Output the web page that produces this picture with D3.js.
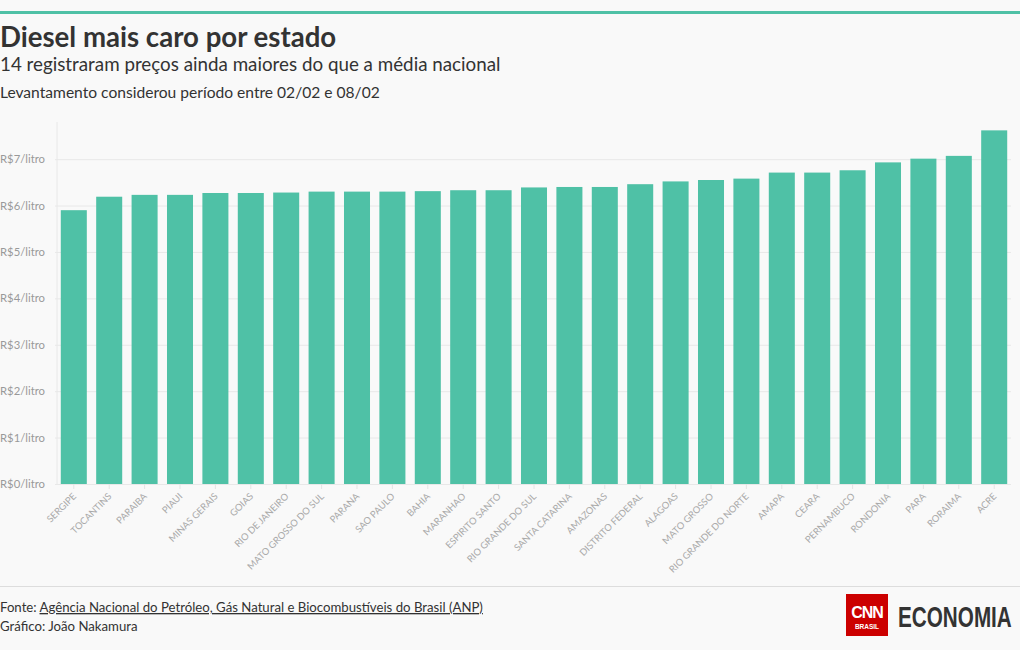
<!DOCTYPE html>
<html><head><meta charset="utf-8">
<script src="https://cdn.jsdelivr.net/npm/d3@7"></script>
<style>
html,body{margin:0;padding:0;background:#f9f9f9;}
svg{display:block;font-family:Lato,"Noto Sans",sans-serif;}
</style></head>
<body><svg id="c" width="1020" height="650"></svg>
<script>
const states = ["SERGIPE","TOCANTINS","PARAIBA","PIAUI","MINAS GERAIS","GOIAS","RIO DE JANEIRO","MATO GROSSO DO SUL","PARANA","SAO PAULO","BAHIA","MARANHAO","ESPIRITO SANTO","RIO GRANDE DO SUL","SANTA CATARINA","AMAZONAS","DISTRITO FEDERAL","ALAGOAS","MATO GROSSO","RIO GRANDE DO NORTE","AMAPA","CEARA","PERNAMBUCO","RONDONIA","PARA","RORAIMA","ACRE"];
const prices = [5.90,6.19,6.23,6.23,6.27,6.27,6.28,6.30,6.30,6.30,6.31,6.33,6.33,6.39,6.40,6.40,6.46,6.52,6.55,6.58,6.71,6.71,6.76,6.93,7.01,7.07,7.62];
const yTicks = [0,1,2,3,4,5,6,7];
const title = "Diesel mais caro por estado";
const subtitle = "14 registraram preços ainda maiores do que a média nacional";
const note = "Levantamento considerou período entre 02/02 e 08/02";
const sourceLabel = "Fonte: ";
const sourceText = "Agência Nacional do Petróleo, Gás Natural e Biocombustíveis do Brasil (ANP)";
const credit = "Gráfico: João Nakamura";

const svg = d3.select("#c");
const teal = "#4fc1a6";

svg.append("rect").attr("x",0).attr("y",11).attr("width",1020).attr("height",3).attr("fill",teal);

svg.append("text").attr("x",0).attr("y",47).attr("font-size",27.6).attr("font-weight",700).attr("fill","#333").text(title);
svg.append("text").attr("x",0).attr("y",71).attr("font-size",18.8).attr("fill","#333").text(subtitle);
svg.append("text").attr("x",0).attr("y",98).attr("font-size",15.6).attr("fill","#333").text(note);

const L = 57, R = 1011, T = 122, B = 484;
const x = d3.scaleBand().domain(states).range([L,R]).paddingInner(0.265).paddingOuter(0.107);
const y = d3.scaleLinear().domain([0,7.8]).range([B,T]);

// y grid + labels
const yAxis = d3.axisLeft(y).tickValues(yTicks).tickSize(-(R-L)).tickFormat(d=>"R$"+d+"/litro");
const gy = svg.append("g").attr("transform",`translate(${L},0)`).call(yAxis);
gy.select(".domain").remove();
gy.selectAll(".tick line").attr("stroke","#e8e8e8").attr("x1",-2);
gy.selectAll(".tick text").attr("x",-L).attr("text-anchor","start").attr("fill","#999").attr("font-size",11.3).attr("font-family","Lato,sans-serif");
svg.append("line").attr("x1",L).attr("x2",L).attr("y1",T).attr("y2",B).attr("stroke","#e8e8e8");

// bars
svg.append("g").selectAll("rect").data(states).join("rect")
  .attr("x",d=>x(d)).attr("width",x.bandwidth())
  .attr("y",(d,i)=>y(prices[i])).attr("height",(d,i)=>B-y(prices[i]))
  .attr("fill",teal);

// x axis
const gx = svg.append("g").attr("transform",`translate(0,${B})`).call(d3.axisBottom(x).tickSize(5).tickSizeOuter(0));
gx.select(".domain").remove();
gx.selectAll(".tick line").attr("stroke","#e4e4e4");
gx.selectAll(".tick text").attr("fill","#aaa").attr("font-size",9.4).attr("font-family","Lato,sans-serif")
  .attr("text-anchor","end").attr("dy",0).attr("y",0)
  .attr("transform","translate(3,13) rotate(-45)");

// footer
svg.append("line").attr("x1",0).attr("x2",1020).attr("y1",586.5).attr("y2",586.5).attr("stroke","#ddd");
const ft = svg.append("text").attr("x",0).attr("y",612).attr("font-size",13.2).attr("fill","#333");
ft.append("tspan").text(sourceLabel);
ft.append("tspan").attr("text-decoration","underline").text(sourceText);
svg.append("text").attr("x",0).attr("y",631).attr("font-size",13.2).attr("fill","#333").text(credit);

// logo
const lg = svg.append("g");
lg.append("rect").attr("x",846).attr("y",594).attr("width",42).attr("height",42).attr("fill","#cc0000");
lg.append("text").attr("x",867).attr("y",618).attr("text-anchor","middle").attr("font-size",16).attr("font-weight",700).attr("fill","#fff").attr("font-family","'Liberation Sans',sans-serif").attr("letter-spacing",-1).text("CNN");
lg.append("text").attr("x",867).attr("y",629).attr("text-anchor","middle").attr("font-size",6.5).attr("font-weight",700).attr("fill","#fff").attr("font-family","'Liberation Sans',sans-serif").text("BRASIL");
lg.append("g").attr("transform","translate(898,627) scale(0.69,1)")
  .append("text").attr("x",0).attr("y",0).attr("font-size",30).attr("font-weight",700).attr("fill","#333").attr("font-family","'Liberation Sans',sans-serif").text("ECONOMIA");
</script></body></html>
